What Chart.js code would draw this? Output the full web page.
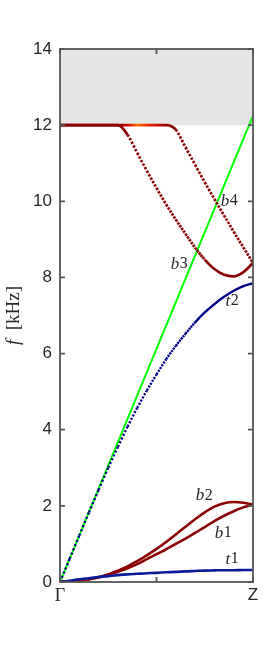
<!DOCTYPE html>
<html>
<head>
<meta charset="utf-8">
<script src="https://cdn.jsdelivr.net/npm/chart.js@4.4.0/dist/chart.umd.min.js"></script>
<style>
  html, body { margin: 0; padding: 0; background: #fff; }
  canvas { display: block; }
</style>
</head>
<body>
<canvas id="dispersionChart" width="279" height="654"></canvas>
<script>
// normalised wavenumber along Gamma -> Z
var kPath = [0, 0.05, 0.1, 0.15, 0.2, 0.25, 0.3, 0.35, 0.4, 0.45, 0.5,
             0.55, 0.6, 0.65, 0.7, 0.75, 0.8, 0.85, 0.9, 0.95, 1];

// branch frequencies in kHz
var t1Freq = [0, 0.035, 0.07, 0.1, 0.13, 0.155, 0.18, 0.2, 0.215, 0.23, 0.24,
              0.255, 0.265, 0.28, 0.29, 0.3, 0.305, 0.31, 0.31, 0.315, 0.315];
var t2Freq = [0, 0.61, 1.22, 1.83, 2.42, 3.0, 3.55, 4.08, 4.57, 5.03, 5.45,
              5.85, 6.2, 6.52, 6.82, 7.08, 7.3, 7.49, 7.65, 7.77, 7.85];
var b1Freq = [0, 0.01, 0.03, 0.07, 0.12, 0.19, 0.27, 0.36, 0.47, 0.6, 0.73,
              0.86, 1.0, 1.14, 1.29, 1.44, 1.6, 1.74, 1.86, 1.96, 2.03];
var b2Freq = [0, 0.01, 0.03, 0.07, 0.13, 0.2, 0.3, 0.41, 0.55, 0.7, 0.87,
              1.05, 1.25, 1.45, 1.65, 1.83, 1.98, 2.07, 2.1, 2.08, 2.03];
var b3Freq = [12, 12, 12, 12, 12, 12, 12, 11.75, 11.27, 10.8, 10.35,
              9.92, 9.52, 9.15, 8.78, 8.47, 8.22, 8.07, 8.03, 8.14, 8.38];
var b4Freq = [12, 12, 12, 12, 12, 12, 12, 12, 12, 12, 12,
              12, 11.88, 11.42, 10.96, 10.5, 10.06, 9.63, 9.2, 8.79, 8.38];

// straight green line
var lineK = [0, 1];
var lineFreq = [0, 12.25];

// shaded band
var bandLow = 12;
var bandHigh = 14;

var xTickValues = [0, 0.5, 1];
var xTickLabels = ['\u0393', '', 'Z'];
var yMin = 0, yMax = 14, yStep = 2;

// where the branch names sit (k, f)
var curveTags = [
  { letter: 'b', digit: '4', k: 0.876, f: 10.0 },
  { letter: 'b', digit: '3', k: 0.617, f: 8.35 },
  { letter: 't', digit: '2', k: 0.891, f: 7.38 },
  { letter: 'b', digit: '2', k: 0.746, f: 2.26 },
  { letter: 'b', digit: '1', k: 0.845, f: 1.28 },
  { letter: 't', digit: '1', k: 0.891, f: 0.6 }
];

var darkRed = '#8b0000';
var navy = '#00008b';
var t1Blue = '#0a1a9a';
var lime = '#00ff00';
var axisGrey = '#555555';
var textDark = '#262626';

function toPoints(xs, ys) {
  return xs.map(function (x, i) { return { x: x, y: ys[i] }; });
}

// dotted look only where the curve is steep (samples spread out)
function dotsFor(step, dot) {
  return function (ctx) {
    var dx = ctx.p1.x - ctx.p0.x, dy = ctx.p1.y - ctx.p0.y;
    var s = dx === 0 ? 10 : Math.abs(dy / dx);
    var arc = step * Math.sqrt(1 + s * s);
    return arc > dot + 0.6 ? [dot, arc - dot] : undefined;
  };
}

function flatBandColour(context) {
  var chart = context.chart;
  if (!chart.chartArea) return darkRed;
  var xs = chart.scales.x;
  var g = chart.ctx.createLinearGradient(xs.getPixelForValue(0), 0, xs.getPixelForValue(1), 0);
  g.addColorStop(0, darkRed);
  g.addColorStop(0.30, darkRed);
  g.addColorStop(0.35, '#d40000');
  g.addColorStop(0.40, '#ff7000');
  g.addColorStop(0.46, '#f02000');
  g.addColorStop(0.53, '#b00000');
  g.addColorStop(0.58, darkRed);
  g.addColorStop(1, darkRed);
  return g;
}

var framePlugin = {
  id: 'frame',
  afterDraw: function (chart) {
    var ctx = chart.ctx;
    var a = chart.chartArea;
    var xs = chart.scales.x, ys = chart.scales.y;
    var tick = 5;

    ctx.save();
    ctx.strokeStyle = axisGrey;
    ctx.lineWidth = 1.8;
    ctx.strokeRect(a.left, a.top, a.right - a.left, a.bottom - a.top);

    ctx.beginPath();
    for (var v = yMin; v <= yMax; v += yStep) {
      var py = ys.getPixelForValue(v);
      ctx.moveTo(a.left, py); ctx.lineTo(a.left + tick, py);
      ctx.moveTo(a.right, py); ctx.lineTo(a.right - tick, py);
    }
    xTickValues.forEach(function (k) {
      var px = xs.getPixelForValue(k);
      ctx.moveTo(px, a.bottom); ctx.lineTo(px, a.bottom - tick);
      ctx.moveTo(px, a.top); ctx.lineTo(px, a.top + tick);
    });
    ctx.stroke();

    // branch names
    ctx.fillStyle = textDark;
    ctx.textBaseline = 'middle';
    ctx.textAlign = 'left';
    curveTags.forEach(function (t) {
      var px = xs.getPixelForValue(t.k), py = ys.getPixelForValue(t.f);
      ctx.font = 'italic 17px "Liberation Serif"';
      var w1 = ctx.measureText(t.letter).width;
      ctx.font = '16px "Liberation Serif"';
      var w2 = ctx.measureText(t.digit).width;
      var x0 = px - (w1 + w2) / 2;
      ctx.font = 'italic 17px "Liberation Serif"';
      ctx.fillText(t.letter, x0, py);
      ctx.font = '16px "Liberation Serif"';
      ctx.fillText(t.digit, x0 + w1 + 0.5, py);
    });

    // y axis title: f [kHz]
    ctx.translate(14, (a.top + a.bottom) / 2);
    ctx.rotate(-Math.PI / 2);
    ctx.font = 'italic 19px "Liberation Serif"';
    var fw = ctx.measureText('f').width;
    ctx.font = '19px "Liberation Serif"';
    var rest = '  [kHz]';
    var rw = ctx.measureText(rest).width;
    var sx = -(fw + rw) / 2;
    ctx.font = 'italic 19px "Liberation Serif"';
    ctx.fillText('f', sx, 0);
    ctx.font = '19px "Liberation Serif"';
    ctx.fillText(rest, sx + fw, 0);
    ctx.restore();
  }
};

var ctx = document.getElementById('dispersionChart').getContext('2d');
var dispersionChart = new Chart(ctx, {
  type: 'line',
  data: {
    datasets: [
      { // t1
        data: toPoints(kPath, t1Freq), borderColor: t1Blue, borderWidth: 2.6, order: 1
      },
      { // b1
        data: toPoints(kPath, b1Freq), borderColor: darkRed, borderWidth: 2.6, order: 2
      },
      { // b2
        data: toPoints(kPath, b2Freq), borderColor: darkRed, borderWidth: 2.6, order: 3
      },
      { // t2
        data: toPoints(kPath, t2Freq), borderColor: navy, borderWidth: 2.4, order: 4,
        segment: { borderDash: dotsFor(1.75, 2.1) }
      },
      { // b4
        data: toPoints(kPath, b4Freq), borderColor: flatBandColour, borderWidth: 2.7, order: 5,
        segment: { borderDash: dotsFor(1.9, 2.4) }
      },
      { // b3
        data: toPoints(kPath, b3Freq), borderColor: darkRed, borderWidth: 2.7, order: 6,
        segment: { borderDash: dotsFor(1.9, 2.4) }
      },
      { // light line
        data: toPoints(lineK, lineFreq), borderColor: lime, borderWidth: 2, order: 7,
        cubicInterpolationMode: 'default', tension: 0
      },
      { // shaded band
        data: toPoints(lineK, [bandHigh, bandHigh]), borderWidth: 0, borderColor: 'rgba(0,0,0,0)',
        backgroundColor: '#e5e5e5', fill: { value: bandLow }, order: 8,
        cubicInterpolationMode: 'default', tension: 0
      }
    ]
  },
  options: {
    responsive: false,
    animation: false,
    events: [],
    layout: { padding: { left: 0, top: 49, right: 26, bottom: 42 } },
    elements: {
      point: { radius: 0 },
      line: { cubicInterpolationMode: 'monotone', borderCapStyle: 'butt', fill: false }
    },
    plugins: {
      legend: { display: false },
      tooltip: { enabled: false }
    },
    scales: {
      x: {
        type: 'linear', min: 0, max: 1,
        afterBuildTicks: function (scale) {
          scale.ticks = xTickValues.map(function (v) { return { value: v }; });
        },
        afterFit: function (scale) { scale.height = 30; },
        grid: { display: false, drawTicks: false },
        border: { display: false },
        ticks: {
          padding: 3,
          color: textDark,
          maxRotation: 0,
          autoSkip: false,
          font: function (c) {
            return c.tick && c.tick.value === 0
              ? { family: '"Liberation Serif"', size: 18 }
              : { family: '"Liberation Sans"', size: 17 };
          },
          callback: function (value) {
            var i = xTickValues.indexOf(value);
            return i >= 0 ? xTickLabels[i] : '';
          }
        }
      },
      y: {
        min: yMin, max: yMax,
        afterFit: function (scale) { scale.width = 60; },
        grid: { display: false, drawTicks: false },
        border: { display: false },
        ticks: {
          stepSize: yStep,
          padding: 8,
          color: textDark,
          font: { family: '"Liberation Sans"', size: 17 }
        }
      }
    }
  },
  plugins: [framePlugin]
});
</script>
</body>
</html>
